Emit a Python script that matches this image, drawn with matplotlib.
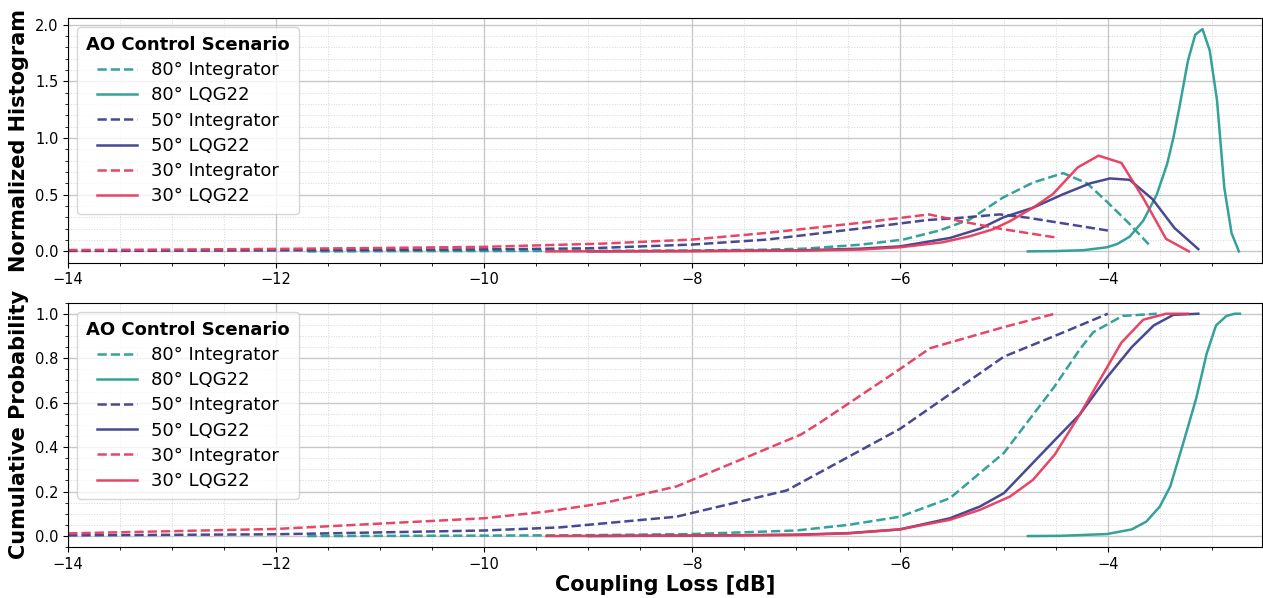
import numpy as np
import matplotlib
matplotlib.use("Agg")
import matplotlib.pyplot as plt
from matplotlib.ticker import AutoMinorLocator

# Scenario labels, colours and line styles
labels = ["80° Integrator", "80° LQG22", "50° Integrator", "50° LQG22", "30° Integrator", "30° LQG22"]
colors = ["#2a9d94", "#2a9d94", "#3f3f8c", "#3f3f8c", "#e63c5e", "#e63c5e"]
styles = ["--", "-", "--", "-", "--", "-"]

# Normalized histograms of coupling loss [dB]
h80_int_x = [-11.7, -11.0, -10.0, -9.0, -8.0, -7.28, -6.9, -6.38, -5.97, -5.62, -5.33, -5.01, -4.72, -4.43, -4.2, -4.0, -3.8, -3.58]
h80_int_y = [0.0, 0.002, 0.003, 0.005, 0.008, 0.015, 0.025, 0.059, 0.104, 0.184, 0.281, 0.474, 0.607, 0.69, 0.6, 0.43, 0.25, 0.036]
h80_lqg_x = [-4.77, -4.5, -4.24, -4.01, -3.91, -3.79, -3.66, -3.53, -3.43, -3.37, -3.31, -3.23, -3.16, -3.09, -3.02, -2.95, -2.88, -2.81, -2.74]
h80_lqg_y = [0.0, 0.003, 0.01, 0.036, 0.065, 0.13, 0.27, 0.5, 0.77, 1.0, 1.28, 1.68, 1.91, 1.96, 1.77, 1.33, 0.56, 0.16, 0.0]
h50_int_x = [-14.0, -13.0, -12.0, -11.0, -10.0, -9.0, -8.0, -7.28, -6.4, -5.74, -5.42, -5.04, -4.78, -4.0]
h50_int_y = [0.004, 0.006, 0.009, 0.013, 0.018, 0.027, 0.06, 0.104, 0.2, 0.276, 0.296, 0.326, 0.298, 0.184]
h50_lqg_x = [-9.0, -8.0, -7.0, -6.38, -6.0, -5.52, -5.23, -5.0, -4.72, -4.43, -4.17, -3.98, -3.79, -3.57, -3.36, -3.13]
h50_lqg_y = [0.0, 0.003, 0.008, 0.024, 0.044, 0.118, 0.2, 0.302, 0.385, 0.504, 0.6, 0.643, 0.631, 0.46, 0.207, 0.02]
h30_int_x = [-14.0, -13.0, -12.0, -11.0, -10.0, -9.4, -8.88, -8.0, -7.28, -6.38, -5.72, -5.42, -5.04, -4.51]
h30_int_y = [0.012, 0.016, 0.022, 0.03, 0.04, 0.055, 0.068, 0.104, 0.163, 0.252, 0.326, 0.267, 0.2, 0.124]
h30_lqg_x = [-9.4, -8.0, -7.0, -6.38, -6.0, -5.59, -5.33, -5.11, -4.94, -4.72, -4.53, -4.29, -4.09, -3.87, -3.66, -3.44, -3.22]
h30_lqg_y = [0.0, 0.002, 0.006, 0.016, 0.036, 0.08, 0.133, 0.193, 0.267, 0.385, 0.504, 0.74, 0.844, 0.78, 0.47, 0.11, 0.0]

# Cumulative distributions
c80_int_x = [-11.7, -10.0, -9.0, -8.0, -7.0, -6.5, -6.0, -5.52, -5.0, -4.52, -4.27, -4.14, -3.86, -3.53]
c80_int_y = [0.0, 0.002, 0.004, 0.009, 0.025, 0.05, 0.087, 0.17, 0.374, 0.668, 0.84, 0.917, 0.99, 1.0]
c80_lqg_x = [-4.77, -4.46, -4.01, -3.77, -3.63, -3.5, -3.4, -3.28, -3.15, -3.05, -2.96, -2.86, -2.78, -2.73]
c80_lqg_y = [0.0, 0.001, 0.009, 0.03, 0.065, 0.133, 0.223, 0.41, 0.62, 0.82, 0.947, 0.99, 1.0, 1.0]
c50_int_x = [-14.0, -12.0, -10.0, -9.27, -8.15, -7.09, -6.0, -5.0, -4.46, -4.0]
c50_int_y = [0.003, 0.008, 0.025, 0.039, 0.087, 0.205, 0.482, 0.807, 0.91, 1.0]
c50_lqg_x = [-9.0, -8.0, -7.0, -6.5, -6.0, -5.52, -5.23, -5.0, -4.52, -4.27, -4.01, -3.77, -3.56, -3.37, -3.13]
c50_lqg_y = [0.0, 0.002, 0.006, 0.013, 0.03, 0.08, 0.133, 0.193, 0.427, 0.547, 0.713, 0.85, 0.947, 0.995, 1.0]
c30_int_x = [-14.0, -12.0, -10.0, -9.4, -8.85, -8.15, -6.95, -6.77, -6.0, -5.71, -5.0, -4.51]
c30_int_y = [0.012, 0.032, 0.08, 0.11, 0.148, 0.223, 0.457, 0.51, 0.751, 0.845, 0.94, 1.0]
c30_lqg_x = [-9.4, -8.0, -7.0, -6.5, -6.0, -5.52, -5.23, -4.94, -4.72, -4.51, -4.27, -3.87, -3.66, -3.44, -3.23]
c30_lqg_y = [0.0, 0.002, 0.005, 0.012, 0.03, 0.073, 0.118, 0.178, 0.253, 0.367, 0.547, 0.87, 0.973, 1.0, 1.0]

hists = [(h80_int_x, h80_int_y), (h80_lqg_x, h80_lqg_y), (h50_int_x, h50_int_y),
         (h50_lqg_x, h50_lqg_y), (h30_int_x, h30_int_y), (h30_lqg_x, h30_lqg_y)]
cdfs = [(c80_int_x, c80_int_y), (c80_lqg_x, c80_lqg_y), (c50_int_x, c50_int_y),
        (c50_lqg_x, c50_lqg_y), (c30_int_x, c30_int_y), (c30_lqg_x, c30_lqg_y)]

fig, (ax1, ax2) = plt.subplots(2, 1, figsize=(12.63, 5.98), dpi=100)
fig.subplots_adjust(left=0.054, right=0.999, top=0.970, bottom=0.085, hspace=0.164)

for ax, data in [(ax1, hists), (ax2, cdfs)]:
    for (x, y), lab, c, ls in zip(data, labels, colors, styles):
        ax.plot(x, y, ls, color=c, lw=1.8, alpha=0.95, label=lab)
    ax.set_xlim(-14, -2.52)
    ax.xaxis.set_minor_locator(AutoMinorLocator())
    ax.yaxis.set_minor_locator(AutoMinorLocator())
    ax.grid(which="major", color="#c8c8c8", lw=1.0)
    ax.grid(which="minor", color="#d6d6d6", lw=0.7, ls=":")
    ax.set_axisbelow(True)
    ax.tick_params(labelsize=10.5)
    leg = ax.legend(loc="upper left", fontsize=13, title="AO Control Scenario",
                    title_fontproperties={"weight": "bold", "size": 13},
                    handlelength=2.2, borderpad=0.5, labelspacing=0.4)

ax1.set_ylabel("Normalized Histogram", fontsize=15, fontweight="bold")
ax2.set_ylabel("Cumulative Probability", fontsize=15, fontweight="bold")
ax2.set_xlabel("Coupling Loss [dB]", fontsize=15, fontweight="bold", labelpad=2)

fig.savefig("out.png", dpi=100)
